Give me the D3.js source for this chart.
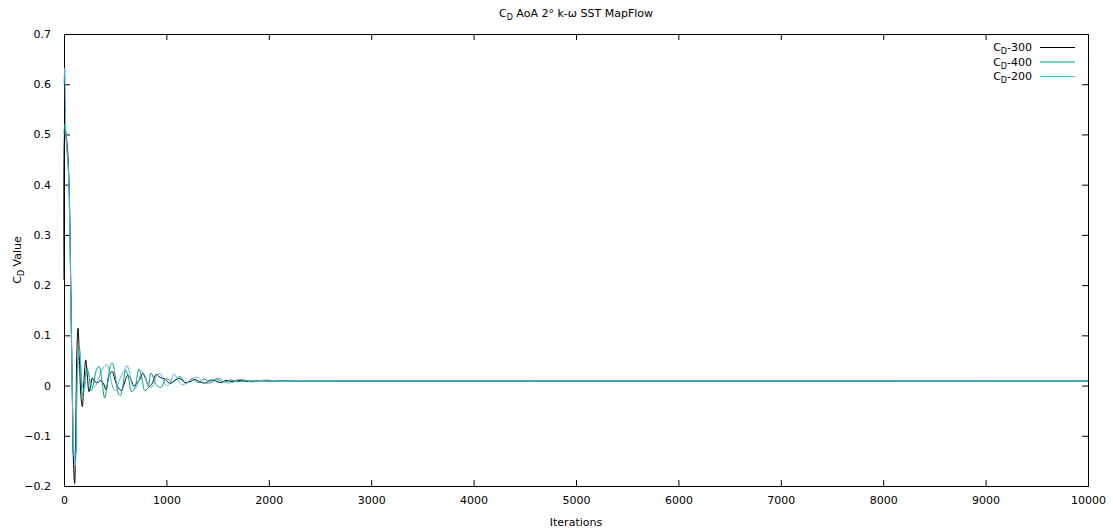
<!DOCTYPE html>
<html>
<head>
<meta charset="utf-8">
<script src="https://cdn.jsdelivr.net/npm/d3@7/dist/d3.min.js"></script>
<style>
  html, body { margin: 0; padding: 0; background: #fff; }
  svg { display: block; font-family: "DejaVu Sans", sans-serif; }
</style>
</head>
<body>
<svg id="chart" width="1113" height="531"></svg>
<script>
// Drag coefficient history, [iteration, C_D]
const cd300 = [
  [0,0.21],[5,0.50],[12,0.51],[25,0.49],[35,0.47],[50,0.40],[65,0.22],[80,0.0],[92,-0.15],[104,-0.195],
  [115,-0.08],[125,0.06],[137,0.114],[150,0.06],[165,-0.02],[179,-0.042],[195,0.01],[212,0.051],[228,0.02],
  [244,-0.012],[260,0.0],[277,0.015],[300,0.008],[330,0.006],[360,0.01],[390,0.002],[410,-0.008],[440,0.02],
  [470,0.028],[500,0.01],[530,-0.004],[560,-0.01],[590,0.005],[620,0.02],[650,0.014],[680,0.0],[710,0.004],
  [740,0.012],[770,0.024],[800,0.012],[830,-0.002],[860,0.004],[900,0.022],[940,0.016],[986,0.013],[1035,0.004],
  [1080,0.01],[1130,0.014],[1180,0.006],[1230,0.008],[1280,0.012],[1330,0.007],[1380,0.005],[1430,0.011],
  [1480,0.009],[1530,0.006],[1580,0.01],[1650,0.008],[1720,0.01],[1800,0.008],[1900,0.0095],[2000,0.009],
  [2200,0.0092],[2600,0.0092],[10000,0.0092]
];
const cd400 = [
  [0,0.5],[8,0.52],[25,0.48],[40,0.44],[55,0.33],[70,0.12],[85,-0.05],[98,-0.14],[110,-0.14],[122,-0.02],
  [135,0.05],[150,0.075],[165,0.03],[180,-0.02],[200,-0.005],[222,0.035],[245,0.02],[265,-0.01],[290,0.005],
  [315,0.03],[342,0.038],[370,0.01],[397,-0.025],[425,0.005],[455,0.04],[472,0.045],[500,0.02],[530,-0.015],
  [550,-0.02],[575,0.0],[602,0.031],[630,0.015],[660,-0.012],[690,-0.006],[732,0.033],[760,0.015],[790,-0.01],
  [820,-0.005],[850,0.025],[900,0.002],[945,-0.004],[1000,0.014],[1060,0.006],[1133,0.018],[1190,0.004],
  [1250,0.014],[1310,0.006],[1370,0.013],[1430,0.006],[1490,0.012],[1560,0.007],[1630,0.011],[1700,0.008],
  [1780,0.010],[1860,0.0085],[1950,0.0095],[2100,0.0092],[10000,0.0092]
];
const cd200 = [
  [0,0.60],[8,0.633],[14,0.56],[20,0.49],[26,0.48],[32,0.46],[45,0.42],[58,0.30],[72,0.1],[88,-0.08],[100,-0.14],
  [110,-0.16],[122,-0.06],[135,0.03],[150,0.07],[165,0.04],[180,0.0],[195,-0.01],[215,0.02],[235,0.025],
  [255,0.01],[280,-0.005],[310,0.0],[340,0.015],[370,0.03],[400,0.04],[423,0.041],[450,0.02],[480,-0.005],
  [505,-0.01],[530,0.005],[560,0.02],[590,0.03],[615,0.04],[640,0.025],[670,0.0],[700,-0.005],[730,0.01],
  [760,0.028],[790,0.02],[820,0.0],[850,-0.004],[880,0.005],[910,0.02],[940,0.024],[970,0.01],[1000,0.0],
  [1030,0.003],[1074,0.023],[1110,0.012],[1150,0.002],[1190,0.004],[1250,0.014],[1312,0.016],[1360,0.006],
  [1410,0.004],[1460,0.012],[1523,0.014],[1580,0.006],[1640,0.006],[1700,0.012],[1770,0.011],[1840,0.007],
  [1920,0.010],[2000,0.011],[2100,0.008],[2250,0.010],[2400,0.009],[2600,0.0093],[10000,0.0092]
];

const seriesNames = ["300", "400", "200"];
const seriesColors = ["#000000", "#009e73", "#56b4e9"];
const xTicks = [0,1000,2000,3000,4000,5000,6000,7000,8000,9000,10000];
const yTicks = [-0.2,-0.1,0,0.1,0.2,0.3,0.4,0.5,0.6,0.7];

const svg = d3.select("#chart");
const W = 1113, H = 531;
const m = { left: 64, right: 25, top: 34, bottom: 45 };
const x = d3.scaleLinear().domain([0, 10000]).range([m.left, W - m.right]);
const y = d3.scaleLinear().domain([-0.2, 0.7]).range([H - m.bottom, m.top]);

const fmtY = d => d === 0 ? "0" : d3.format(".1f")(d);

// tick marks pointing inward on all four sides, labels on left and bottom
const tickLen = 6;
svg.append("g").attr("transform", `translate(0,${y(-0.2)})`)
  .call(d3.axisBottom(x).tickValues(xTicks).tickSizeInner(-tickLen).tickSizeOuter(0).tickPadding(10).tickFormat(d3.format("d")))
  .call(g => g.select(".domain").remove());
svg.append("g").attr("transform", `translate(0,${y(0.7)})`)
  .call(d3.axisTop(x).tickValues(xTicks).tickSizeInner(-tickLen).tickSizeOuter(0).tickFormat(""))
  .call(g => g.select(".domain").remove());
svg.append("g").attr("transform", `translate(${x(0)},0)`)
  .call(d3.axisLeft(y).tickValues(yTicks).tickSizeInner(-tickLen).tickSizeOuter(0).tickPadding(13).tickFormat(fmtY))
  .call(g => g.select(".domain").remove());
svg.append("g").attr("transform", `translate(${x(10000)},0)`)
  .call(d3.axisRight(y).tickValues(yTicks).tickSizeInner(-tickLen).tickSizeOuter(0).tickFormat(""))
  .call(g => g.select(".domain").remove());

svg.selectAll(".tick text").attr("font-size", 11).attr("font-family", "DejaVu Sans, sans-serif").attr("fill", "#000");
svg.selectAll(".tick line").attr("stroke", "#000");

// frame
svg.append("rect")
  .attr("x", x(0) + 0.5).attr("y", y(0.7) + 0.5)
  .attr("width", x(10000) - x(0)).attr("height", y(-0.2) - y(0.7))
  .attr("fill", "none").attr("stroke", "#000").attr("stroke-width", 1);

// curves
const line = d3.line()
  .x(d => x(d[0]))
  .y(d => y(d[1]))
  .curve(d3.curveCatmullRom.alpha(0.5));

const plot = svg.append("g");
[cd300, cd400, cd200].forEach((data, i) => {
  plot.append("path")
    .datum(data)
    .attr("fill", "none")
    .attr("stroke", seriesColors[i])
    .attr("stroke-width", 1)
    .attr("d", line);
});

// labels with subscript D
function cdText(sel, suffix) {
  sel.append("tspan").text("C");
  sel.append("tspan").text("D").attr("font-size", 8).attr("dy", 3);
  sel.append("tspan").text(suffix).attr("dy", -3);
}

const title = svg.append("text")
  .attr("x", (x(0) + x(10000)) / 2).attr("y", 17)
  .attr("text-anchor", "middle").attr("font-size", 11).attr("fill", "#000");
cdText(title, " AoA 2° k-ω SST MapFlow");

svg.append("text")
  .attr("x", (x(0) + x(10000)) / 2).attr("y", 526)
  .attr("text-anchor", "middle").attr("font-size", 11).attr("fill", "#000")
  .text("Iterations");

const ylab = svg.append("text")
  .attr("transform", `translate(21,${(y(0.7) + y(-0.2)) / 2}) rotate(-90)`)
  .attr("text-anchor", "middle").attr("font-size", 11).attr("fill", "#000");
cdText(ylab, " Value");

// legend
const legend = svg.append("g");
seriesNames.forEach((name, i) => {
  const ly = 47 + i * 14.5;
  const t = legend.append("text")
    .attr("x", 1032).attr("y", ly + 4)
    .attr("text-anchor", "end").attr("font-size", 11).attr("fill", "#000");
  cdText(t, "-" + name);
  legend.append("line")
    .attr("x1", 1040).attr("x2", 1075)
    .attr("y1", ly + 0.5).attr("y2", ly + 0.5)
    .attr("stroke", seriesColors[i]).attr("stroke-width", 1);
});
</script>
</body>
</html>
